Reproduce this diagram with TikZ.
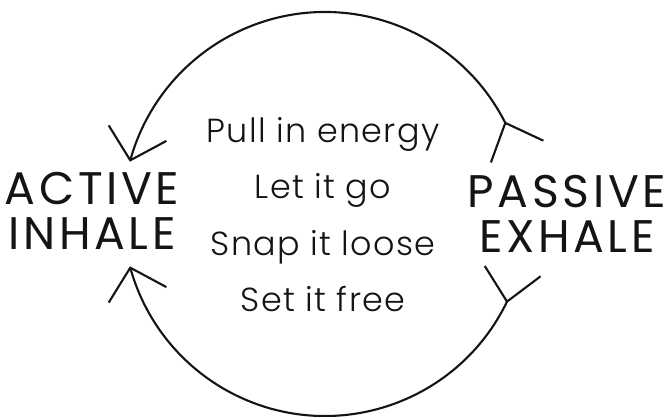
\documentclass[tikz,border=0pt]{standalone}
\usepackage{fontspec}
\setmainfont{Poppins}
\newfontfamily\headfont{Poppins}[LetterSpace=8]
\newfontfamily\linefont{Poppins Light}[LetterSpace=4]
\usetikzlibrary{arrows.meta,bending,calc}
\definecolor{ink}{RGB}{20,20,20}

\begin{document}
\begin{tikzpicture}[x=0.02cm, y=0.02cm,
    phase/.style={align=center, inner sep=0pt, text=ink,
                  font=\headfont\fontsize{26}{25.5}\selectfont},
    mantra/.style={anchor=base, inner sep=0pt, text=ink,
                   font=\linefont\fontsize{19}{22}\selectfont},
    breath/.style={ink, line width=1.2pt,
                   -{Straight Barb[length=16pt, width=34pt]}},
    feather/.style={ink, line width=1.2pt}]
  \useasboundingbox (0,0) rectangle (665,416);
  % the two halves of the breathing cycle
  \node[phase] (inhale) at (92,205) {ACTIVE\\INHALE};
  \node[phase] (exhale) at (567,202) {PASSIVE\\EXHALE};
  % mantra lines in the middle
  \foreach \y/\txt [count=\i] in {273/Pull in energy, 217/Let it go,
                                   161/Snap it loose, 105/Set it free}{
    \node[mantra] (m\i) at (323,\y) {\txt};
  }
  % arc ends on a circle round the centre
  \coordinate (c) at (325,202);
  \coordinate (tr) at ($(c)+(26.8:202)$);
  \coordinate (br) at ($(c)+(-25.7:202)$);
  % upper arc: exhale back to inhale
  \draw[breath] (tr) arc[start angle=26.8, end angle=165, radius=202];
  % lower arc
  \draw[breath] (br) arc[start angle=-25.7, end angle=-165, radius=202];
  % feathered tails
  \foreach \p/\a/\b in {tr/-110/-25, br/37/122}{
    \coordinate (\p a) at ($(\p)+(\a:42)$);
    \coordinate (\p b) at ($(\p)+(\b:42)$);
    \draw[feather] (\p a) -- (\p) -- (\p b);
  }
\end{tikzpicture}
\end{document}
